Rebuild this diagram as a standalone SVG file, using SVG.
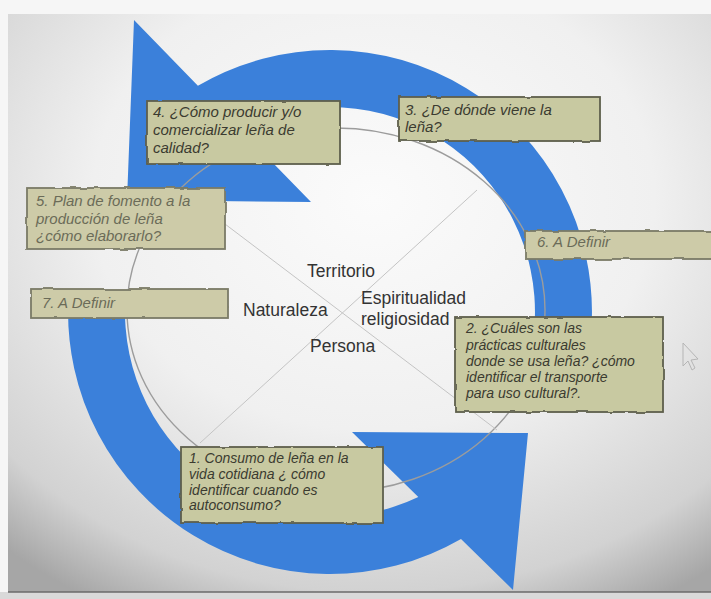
<svg xmlns="http://www.w3.org/2000/svg" width="711" height="599" viewBox="0 0 711 599">
  <defs>
    <radialGradient id="bg" cx="0.52" cy="0.32" r="0.8">
      <stop offset="0" stop-color="#fbfbfb"/>
      <stop offset="0.5" stop-color="#f0f0f0"/>
      <stop offset="0.85" stop-color="#d2d2d2"/>
      <stop offset="1" stop-color="#a6a6a6"/>
    </radialGradient>
    <filter id="rough" x="-5%" y="-10%" width="110%" height="120%">
      <feTurbulence type="fractalNoise" baseFrequency="0.06" numOctaves="2" seed="3" result="n"/>
      <feDisplacementMap in="SourceGraphic" in2="n" scale="3" xChannelSelector="R" yChannelSelector="G"/>
    </filter>
    <style>
      .box { fill: #c8c9a1; stroke: #5e5f4c; stroke-width: 1.8; filter: url(#rough); }
      .box.faded { fill: #cdcba8; stroke: #7a7a66; }
      .bt { font-family: "Liberation Sans", Arial, sans-serif; font-style: italic; font-size: 15px; fill: #3b3b30; }
      .bt.sm { font-size: 14px; }
      .bt.faded { fill: #6b6b58; }
      .ct { font-family: "Liberation Sans", Arial, sans-serif; font-size: 17.5px; fill: #333333; }
      .arrow { fill: #3b80da; }
      .thin { fill: none; stroke: #9c9c9c; stroke-width: 1.4; }
      .xline { fill: none; stroke: #c4c4c4; stroke-width: 1; }
    </style>
  </defs>

  <!-- photo background -->
  <rect x="0" y="0" width="711" height="599" fill="#f6f6f6"/>
  <rect x="8" y="14" width="703" height="578" fill="url(#bg)"/>
  <rect x="0" y="592" width="711" height="7" fill="#d9d9d9"/>
  <line x1="8" y1="592" x2="711" y2="592" stroke="#6a6a6a" stroke-width="1.5"/>

  <!-- cycle arrows -->
  <g id="connectors">
    <path id="arrow-top" class="arrow" d="M 591.6 325.7 A 262 262 0 0 0 197.9 85.7 L 134 20 L 127 200 L 311 202 L 239.2 128.2 A 205 205 0 0 1 534.7 322.7 Z"/>
    <path id="arrow-bottom" class="arrow" d="M 68.4 298.3 A 262 262 0 0 0 461 538.9 L 513 590 L 528 433 L 352 432 L 418.3 497 A 205 205 0 0 1 125.3 301.3 Z"/>
  </g>

  <!-- inner circle and cross -->
  <g id="frame">
    <ellipse class="thin" cx="336" cy="310" rx="209" ry="182"/>
    <line class="xline" x1="188" y1="196" x2="497" y2="430"/>
    <line class="xline" x1="477" y1="190" x2="200" y2="443"/>
  </g>

  <!-- center labels -->
  <g id="center-labels">
    <text class="ct" x="307" y="277">Territorio</text>
    <text class="ct" x="243" y="316">Naturaleza</text>
    <text class="ct" x="361" y="304">Espiritualidad</text>
    <text class="ct" x="361" y="325">religiosidad</text>
    <text class="ct" x="310" y="352">Persona</text>
  </g>

  <g id="node4">
    <rect class="box" x="147" y="101" width="193" height="63"/>
    <text class="bt" x="153" y="117"><tspan x="153">4. ¿Cómo producir y/o</tspan><tspan x="153" dy="18">comercializar leña de</tspan><tspan x="153" dy="18">calidad?</tspan></text>
  </g>

  <g id="node3">
    <rect class="box" x="399" y="97" width="201" height="44"/>
    <text class="bt" x="405" y="115"><tspan x="405">3. ¿De dónde viene la</tspan><tspan x="405" dy="17">leña?</tspan></text>
  </g>

  <g id="node5">
    <rect class="box faded" x="27" y="188" width="198" height="61"/>
    <text class="bt faded" x="36" y="206"><tspan x="36">5. Plan de fomento a la</tspan><tspan x="36" dy="18">producción de leña</tspan><tspan x="36" dy="17">¿cómo elaborarlo?</tspan></text>
  </g>

  <g id="node6">
    <rect class="box faded" x="525" y="231" width="192" height="28"/>
    <text class="bt faded" x="537" y="247">6. A Definir</text>
  </g>

  <g id="node7">
    <rect class="box faded" x="31" y="289" width="197" height="29"/>
    <text class="bt faded" x="42" y="308">7. A Definir</text>
  </g>

  <g id="node2">
    <rect class="box" x="455" y="317" width="208" height="95"/>
    <text class="bt sm" x="466" y="333"><tspan x="466">2. ¿Cuáles son las</tspan><tspan x="466" dy="16.5">prácticas culturales</tspan><tspan x="466" dy="16.5">donde se usa leña? ¿cómo</tspan><tspan x="466" dy="16">identificar el transporte</tspan><tspan x="466" dy="16">para uso cultural?.</tspan></text>
  </g>

  <g id="node1">
    <rect class="box" x="181" y="447" width="202" height="76"/>
    <text class="bt sm" x="189" y="463"><tspan x="189">1. Consumo de leña en la</tspan><tspan x="189" dy="16">vida cotidiana ¿ cómo</tspan><tspan x="189" dy="15.7">identificar cuando es</tspan><tspan x="189" dy="15.7">autoconsumo?</tspan></text>
  </g>

  <!-- faint mouse pointer in the photo -->
  <path d="M 683 343 L 683 366 L 688 361 L 692 370 L 695 368 L 691 360 L 698 359 Z" fill="none" stroke="#b5b5b5" stroke-width="1"/>
</svg>
